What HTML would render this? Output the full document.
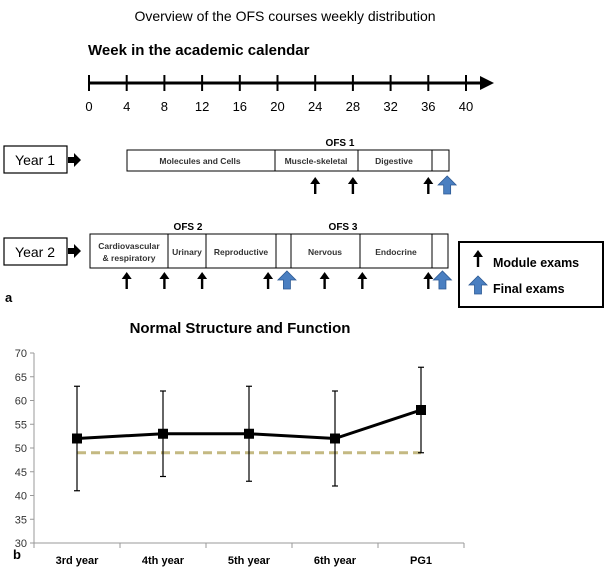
<!DOCTYPE html>
<html><head><meta charset="utf-8"><style>
body{margin:0;background:#fff}
svg{display:block;font-family:"Liberation Sans",sans-serif}
</style></head><body>
<svg id="s" width="609" height="572" viewBox="0 0 609 572">
<text x="285" y="21" font-size="14" text-anchor="middle">Overview of the OFS courses weekly distribution</text>
<text x="88" y="55" font-size="15" font-weight="bold">Week in the academic calendar</text>
<g id="timeline"></g>

<g>
<rect x="4" y="146" width="63" height="27" fill="#fff" stroke="#000" stroke-width="1.2"/>
<text x="35" y="165" font-size="14" text-anchor="middle">Year 1</text>
<path d="M68,157h6v-4l7,7l-7,7v-4h-6z" fill="#000"/>
<rect x="127" y="150" width="322" height="21" fill="#fff" stroke="#000"/>
<line x1="275" y1="150" x2="275" y2="171" stroke="#000"/><line x1="358" y1="150" x2="358" y2="171" stroke="#000"/><line x1="432" y1="150" x2="432" y2="171" stroke="#000"/>
<g font-size="8.5" text-anchor="middle" font-weight="bold" fill="#333">
<text x="200" y="164">Molecules and Cells</text><text x="316" y="164">Muscle-skeletal</text><text x="394" y="164">Digestive</text>
</g>
<text x="340" y="146" font-size="10" font-weight="bold" text-anchor="middle">OFS 1</text>
</g>

<g>
<rect x="4" y="238" width="63" height="27" fill="#fff" stroke="#000" stroke-width="1.2"/>
<text x="35" y="257" font-size="14" text-anchor="middle">Year 2</text>
<path d="M68,248h6v-4l7,7l-7,7v-4h-6z" fill="#000"/>
<rect x="90" y="234" width="358" height="34" fill="#fff" stroke="#000"/>
<g stroke="#000"><line x1="168" y1="234" x2="168" y2="268"/><line x1="206" y1="234" x2="206" y2="268"/><line x1="276" y1="234" x2="276" y2="268"/><line x1="291" y1="234" x2="291" y2="268"/><line x1="360" y1="234" x2="360" y2="268"/><line x1="432" y1="234" x2="432" y2="268"/></g>
<g font-size="8.5" text-anchor="middle" font-weight="bold" fill="#333">
<text x="129" y="249">Cardiovascular</text><text x="129" y="261">&amp; respiratory</text>
<text x="187" y="255">Urinary</text><text x="241" y="255">Reproductive</text>
<text x="325" y="255">Nervous</text><text x="396" y="255">Endocrine</text>
</g>
<text x="188" y="230" font-size="10" font-weight="bold" text-anchor="middle">OFS 2</text>
<text x="343" y="230" font-size="10" font-weight="bold" text-anchor="middle">OFS 3</text>
</g>

<g>
<rect x="459" y="242" width="144" height="65" fill="#fff" stroke="#000" stroke-width="2"/>
<text x="493" y="267" font-size="12.5" font-weight="bold">Module exams</text>
<text x="493" y="293" font-size="12.5" font-weight="bold">Final exams</text>
</g>
<g id="exams"></g>
<text x="5" y="302" font-size="13" font-weight="bold">a</text>
<text x="13" y="559" font-size="13" font-weight="bold">b</text>
<text x="240" y="333" font-size="15" font-weight="bold" text-anchor="middle">Normal Structure and Function</text>
<g id="chart"></g>
</svg>
<script>
const categories=["3rd year","4th year","5th year","6th year","PG1"];
const means=[52,53,53,52,58];
const upper=[63,62,63,62,67];
const lower=[41,44,43,42,49];
const passMark=[49];
const yTicks=[30,35,40,45,50,55,60,65,70];
const weekTicks=[0,4,8,12,16,20,24,28,32,36,40];
const moduleExamWeeks1=[24,28,36];
const finalExamWeeks1=[38];
const moduleExamWeeks2=[4,8,12,19,25,29,36];
const finalExamWeeks2=[21,37.5];

const NS="http://www.w3.org/2000/svg";
function mk(p,t,a){const e=document.createElementNS(NS,t);for(const k in a)e.setAttribute(k,a[k]);p.appendChild(e);return e;}
const wx=w=>89+w*(466-89)/40;
const tl=document.getElementById('timeline');
mk(tl,'line',{x1:89,y1:83,x2:482,y2:83,stroke:'#000','stroke-width':3});
mk(tl,'path',{d:'M480,76L494,83L480,90z',fill:'#000'});
weekTicks.forEach(w=>{
 const t=mk(tl,'line',{x1:wx(w),y1:75,x2:wx(w),y2:91,stroke:'#000','stroke-width':2});
 
 
 const l=mk(tl,'text',{x:wx(w),y:111,'font-size':13,'text-anchor':'middle'});l.textContent=w;
 
 
});
const ex=document.getElementById('exams');
function black(x,y){const g=mk(ex,'g',{});
 mk(g,'line',{x1:x,y1:y+17,x2:x,y2:y+5,stroke:'#000','stroke-width':2.4});mk(g,'path',{d:`M${x-5},${y+7}L${x},${y}L${x+5},${y+7}z`,fill:'#000'});}
function blue(x,y){const p=mk(ex,'path',{d:`M${x-3.5},${y+18}V${y+9}H${x-9}L${x},${y}L${x+9},${y+9}H${x+3.5}V${y+18}z`,fill:'#4a7fc1',stroke:'#2d5a94','stroke-width':0.8});
 }
moduleExamWeeks1.forEach(w=>black(wx(w),177));
finalExamWeeks1.forEach(w=>blue(wx(w),176));
moduleExamWeeks2.forEach(w=>black(wx(w),272));
finalExamWeeks2.forEach(w=>blue(wx(w),271));
black(478,250);blue(478,276);

const ch=document.getElementById('chart');
const X0=34,X1=464,Y0=543,Y1=353;
const ys=v=>Y0-(v-30)*(Y0-Y1)/40;
const band=(X1-X0)/categories.length;
const xs=i=>X0+band*(i+0.5);
mk(ch,'line',{x1:X0,y1:Y1,x2:X0,y2:Y0,stroke:'#999'});
mk(ch,'line',{x1:X0,y1:Y0,x2:X1,y2:Y0,stroke:'#999'});
yTicks.forEach(v=>{mk(ch,'line',{x1:X0-4,y1:ys(v),x2:X0,y2:ys(v),stroke:'#999'});
 const t=mk(ch,'text',{x:X0-7,y:ys(v)+4,'font-size':11,'text-anchor':'end',fill:'#333'});t.textContent=v;
 });
for(let i=0;i<=categories.length;i++)mk(ch,'line',{x1:X0+band*i,y1:Y0,x2:X0+band*i,y2:Y0+5,stroke:'#999'});
categories.forEach((c,i)=>{const t=mk(ch,'text',{x:xs(i),y:564,'font-size':11,'font-weight':'bold','text-anchor':'middle'});t.textContent=c;
 });
const pl=mk(ch,'line',{x1:xs(0),y1:ys(passMark[0]),x2:xs(categories.length-1),y2:ys(passMark[0]),stroke:'#c4b982','stroke-width':3,'stroke-dasharray':'9,5'});

categories.forEach((c,i)=>{const g=mk(ch,'g',{stroke:'#000','stroke-width':1.2});
 
 mk(g,'line',{x1:xs(i),y1:ys(upper[i]),x2:xs(i),y2:ys(lower[i])});
 mk(g,'line',{x1:xs(i)-3,y1:ys(upper[i]),x2:xs(i)+3,y2:ys(upper[i])});
 mk(g,'line',{x1:xs(i)-3,y1:ys(lower[i]),x2:xs(i)+3,y2:ys(lower[i])});});
const ln=mk(ch,'polyline',{points:means.map((v,i)=>xs(i)+','+ys(v)).join(' '),fill:'none',stroke:'#000','stroke-width':3});

means.forEach((v,i)=>{const r=mk(ch,'rect',{x:xs(i)-5,y:ys(v)-5,width:10,height:10,fill:'#000'});
 });
</script>
</body></html>
